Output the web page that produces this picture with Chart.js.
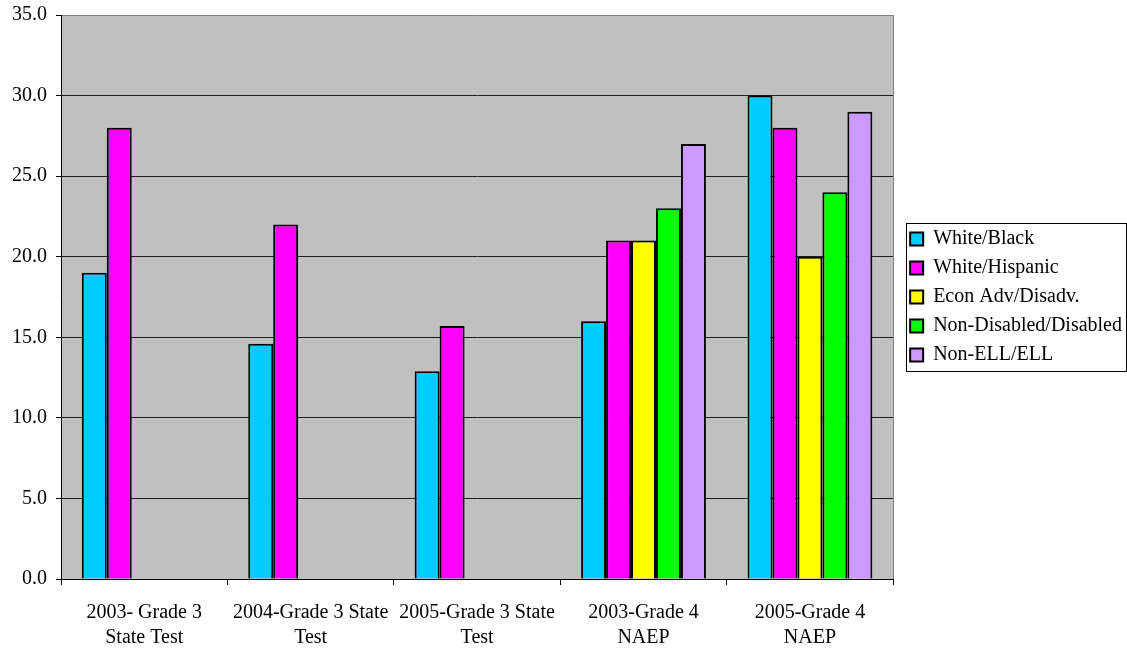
<!DOCTYPE html>
<html>
<head>
<meta charset="utf-8">
<script src="https://cdn.jsdelivr.net/npm/chart.js@4.4.1/dist/chart.umd.min.js"></script>
<style>
  html, body { margin: 0; padding: 0; background: #ffffff; }
  #wrap { width: 1127px; height: 650px; }
</style>
</head>
<body>
<div id="wrap"><canvas id="gapChart" width="1127" height="650"></canvas></div>
<script>
// Test / assessment categories (two-line labels)
const categories = [
  ["2003- Grade 3", "State Test"],
  ["2004-Grade 3 State", "Test"],
  ["2005-Grade 3 State", "Test"],
  ["2003-Grade 4", "NAEP"],
  ["2005-Grade 4", "NAEP"]
];

// Achievement gaps per subgroup comparison
const whiteBlack      = [19.0, 14.6, 12.9, 16.0, 30.0];
const whiteHispanic   = [28.0, 22.0, 15.7, 21.0, 28.0];
const econAdvDisadv   = [null, null, null, 21.0, 20.0];
const nonDisDisabled  = [null, null, null, 23.0, 24.0];
const nonEllEll       = [null, null, null, 27.0, 29.0];

const seriesNames  = ["White/Black", "White/Hispanic", "Econ Adv/Disadv.", "Non-Disabled/Disabled", "Non-ELL/ELL"];
const seriesColors = ["#00CCFF", "#FF00FF", "#FFFF00", "#00FF00", "#CC99FF"];
const seriesValues = [whiteBlack, whiteHispanic, econAdvDisadv, nonDisDisabled, nonEllEll];

// Y axis range and tick step
const yMin = 0, yMax = 35, yStep = 5;

const FONT = "'Liberation Serif', 'Times New Roman', serif";

// Grey plot background plus the grey right edge of the frame
const plotFrame = {
  id: 'plotFrame',
  beforeDraw(chart) {
    const { ctx, chartArea: a } = chart;
    ctx.save();
    ctx.fillStyle = '#C0C0C0';
    ctx.fillRect(a.left, a.top, a.right - a.left, a.bottom - a.top);
    ctx.restore();
  },
  beforeDatasetsDraw(chart) {
    const { ctx, chartArea: a } = chart;
    ctx.save();
    ctx.strokeStyle = '#808080';
    ctx.lineWidth = 1;
    ctx.beginPath();
    ctx.moveTo(Math.round(a.right) + 0.5, a.top);
    ctx.lineTo(Math.round(a.right) + 0.5, a.bottom);
    ctx.stroke();
    ctx.restore();
  }
};

// Put a gap between the plot and the legend, and centre the legend on the plot
const LEGEND_GAP = 8;
const legendShift = {
  id: 'legendShift',
  afterLayout(chart) {
    const lg = chart.legend;
    if (!lg) return;
    const a = chart.chartArea;
    lg.left += LEGEND_GAP;
    lg.right += LEGEND_GAP;
    lg.top = a.top;
    lg.bottom = a.bottom;
    lg.height = a.bottom - a.top;
  }
};

// Black rectangle around the legend entries
const legendFrame = {
  id: 'legendFrame',
  afterDraw(chart) {
    const lg = chart.legend;
    if (!lg || !lg.legendHitBoxes || !lg.legendHitBoxes.length) return;
    const hb = lg.legendHitBoxes;
    const l = Math.min(...hb.map(h => h.left));
    const t = Math.min(...hb.map(h => h.top));
    const r = Math.max(...hb.map(h => h.left + h.width));
    const b = Math.max(...hb.map(h => h.top + h.height));
    const ctx = chart.ctx;
    ctx.save();
    ctx.strokeStyle = '#000';
    ctx.lineWidth = 1;
    const x0 = Math.round(l - 4) + 0.5, y0 = Math.round(t - 6) + 0.5;
    const x1 = Math.round(r + 4) + 0.5, y1 = Math.round(b + 6) + 0.5;
    ctx.strokeRect(x0, y0, x1 - x0, y1 - y0);
    ctx.restore();
  }
};

const datasets = seriesValues.map((vals, i) => ({
  label: seriesNames[i],
  data: vals,
  backgroundColor: seriesColors[i],
  borderColor: '#000000',
  borderWidth: 2,
  borderSkipped: 'bottom',
  categoryPercentage: 0.75,
  barPercentage: 1.0
}));

new Chart(document.getElementById('gapChart'), {
  type: 'bar',
  data: { labels: categories, datasets },
  plugins: [plotFrame, legendShift, legendFrame],
  options: {
    responsive: false,
    animation: false,
    devicePixelRatio: 1,
    layout: { padding: { left: 0, top: 15, right: 3, bottom: 0 } },
    plugins: {
      tooltip: { enabled: false },
      legend: {
        position: 'right',
        labels: {
          color: '#000',
          font: { family: FONT, size: 20 },
          boxWidth: 13,
          boxHeight: 13,
          padding: 9
        }
      }
    },
    scales: {
      x: {
        afterFit(scale) { scale.height = 71; },
        grid: {
          offset: true,
          drawOnChartArea: false,
          drawTicks: true,
          tickLength: 6,
          color: '#000',
          tickColor: '#000'
        },
        border: { color: '#000', width: 1 },
        ticks: {
          color: '#000',
          font: { family: FONT, size: 20, lineHeight: 1.25 },
          padding: 15,
          maxRotation: 0,
          autoSkip: false
        }
      },
      y: {
        min: yMin,
        max: yMax,
        afterFit(scale) {
          scale.width = 61;
          scale.paddingTop = 0;
        },
        grid: {
          color: ctx => (ctx.tick && ctx.tick.value === yMax) ? '#808080' : '#202020',
          tickColor: '#000',
          tickLength: 5,
          lineWidth: 1
        },
        border: { color: '#000', width: 1 },
        ticks: {
          stepSize: yStep,
          color: '#000',
          padding: 9,
          font: { family: FONT, size: 20 },
          callback: v => Number(v).toFixed(1)
        }
      }
    }
  }
});
</script>
</body>
</html>
